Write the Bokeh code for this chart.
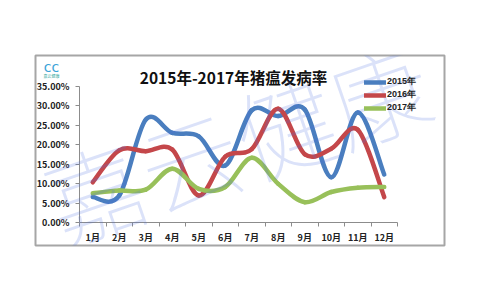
from bokeh.plotting import figure
from bokeh.models import (Range1d, FixedTicker, NumeralTickFormatter, Label,
                          Legend, LegendItem, LinearAxis)
from bokeh.embed import file_html
from bokeh.resources import INLINE

months = ["1月", "2月", "3月", "4月", "5月", "6月", "7月", "8月", "9月", "10月", "11月", "12月"]
rate_2015 = [6.6, 7.0, 26.5, 23.1, 22.2, 14.7, 28.9, 27.4, 29.1, 11.7, 28.3, 12.4]
rate_2016 = [10.4, 18.6, 18.4, 18.8, 7.0, 17.0, 18.9, 29.3, 17.6, 19.0, 23.9, 6.6]
rate_2017 = [7.6, 8.3, 8.5, 13.9, 8.7, 9.2, 16.7, 10.0, 5.3, 7.9, 9.0, 9.2]
series_names = ["2015年", "2016年", "2017年"]
colors = ["#4a7ebf", "#c4474a", "#98c05a"]
y_ticks = [0, 0.05, 0.10, 0.15, 0.20, 0.25, 0.30, 0.35]
title_text = "2015年-2017年猪瘟发病率"
watermark_text = "嘉云健康"

FONT = "Noto Sans CJK SC"

# layout (pixels): outer chart box and inner plotting area
BOX_L, BOX_R, BOX_T, BOX_B = 35, 444, 55, 245
AX_L, AX_R, AX_T, AX_B = 79, 397, 86, 222.3
n = len(months)
ymax = y_ticks[-1]
px_x = (AX_R - AX_L) / n
px_y = (AX_B - AX_T) / ymax
x_start = -(AX_L - BOX_L) / px_x
x_end = n + (BOX_R - AX_R) / px_x
y_start = -(BOX_B - AX_B) / px_y
y_end = ymax + (AX_T - BOX_T) / px_y

p = figure(width=480, height=300, output_backend="svg", toolbar_location=None,
           x_range=Range1d(x_start, x_end), y_range=Range1d(y_start, y_end),
           x_axis_location=None, y_axis_location=None,
           min_border_left=BOX_L, min_border_right=480 - BOX_R,
           min_border_top=BOX_T, min_border_bottom=300 - BOX_B)
p.background_fill_color = "white"
p.border_fill_color = "white"
p.outline_line_color = "#a6a6a6"
p.outline_line_width = 2
p.xgrid.visible = False
p.ygrid.visible = False

xs = [i + 0.5 for i in range(n)]


def smooth_segments(xv, yv):
    m = len(xv)
    P = list(zip(xv, yv))
    seg = dict(x0=[], y0=[], x1=[], y1=[], cx0=[], cy0=[], cx1=[], cy1=[])
    for i in range(m - 1):
        pm = P[i - 1] if i > 0 else P[i]
        p0 = P[i]
        p1 = P[i + 1]
        pp = P[i + 2] if i + 2 < m else P[i + 1]
        seg["x0"].append(p0[0]); seg["y0"].append(p0[1])
        seg["x1"].append(p1[0]); seg["y1"].append(p1[1])
        seg["cx0"].append(p0[0] + (p1[0] - pm[0]) / 6)
        seg["cy0"].append(p0[1] + (p1[1] - pm[1]) / 6)
        seg["cx1"].append(p1[0] - (pp[0] - p0[0]) / 6)
        seg["cy1"].append(p1[1] - (pp[1] - p0[1]) / 6)
    return seg


items = []
for vals, name, col in zip([rate_2015, rate_2016, rate_2017], series_names, colors):
    yv = [v / 100 for v in vals]
    s = smooth_segments(xs, yv)
    r = p.bezier(line_color=col, line_width=4.5, line_cap="round", **s)
    items.append(LegendItem(label=name, renderers=[r]))

# axes placed at data positions inside the framed chart box
yaxis = LinearAxis(fixed_location=0, bounds=(0, ymax))
yaxis.ticker = FixedTicker(ticks=y_ticks)
yaxis.formatter = NumeralTickFormatter(format="0.00%")
yaxis.major_tick_out = 4
yaxis.major_tick_in = 0
yaxis.minor_tick_out = 0
yaxis.minor_tick_in = 0
yaxis.major_label_standoff = 6
yaxis.axis_line_color = "#8c8c8c"
yaxis.major_tick_line_color = "#8c8c8c"
yaxis.major_label_text_font = FONT
yaxis.major_label_text_font_size = "9px"
yaxis.major_label_text_font_style = "bold"
yaxis.major_label_text_color = "#222222"
p.add_layout(yaxis, "left")

xaxis = LinearAxis(fixed_location=0, bounds=(0, n))
xaxis.ticker = FixedTicker(ticks=xs, minor_ticks=list(range(n + 1)))
xaxis.major_label_overrides = {x: m for x, m in zip(xs, months)}
xaxis.major_tick_out = 0
xaxis.major_tick_in = 0
xaxis.minor_tick_out = 4
xaxis.minor_tick_in = 0
xaxis.minor_tick_line_color = "#8c8c8c"
xaxis.axis_line_color = "#8c8c8c"
xaxis.major_label_standoff = 4
xaxis.major_label_text_font = FONT
xaxis.major_label_text_font_size = "9px"
xaxis.major_label_text_font_style = "bold"
xaxis.major_label_text_color = "#222222"
p.add_layout(xaxis, "below")

legend = Legend(items=items, location=(364 - BOX_L, BOX_B - 114), orientation="vertical",
                glyph_width=22, glyph_height=10, label_height=10, label_standoff=1,
                spacing=0, padding=0, margin=0,
                label_text_font="Liberation Sans", label_text_font_size="9px",
                label_text_line_height=1.0,
                label_text_font_style="bold", label_text_color="#222222",
                border_line_alpha=0, background_fill_alpha=0)
p.add_layout(legend)

# title
p.add_layout(Label(x=233, y=76, x_units="canvas", y_units="canvas", text=title_text,
                   text_font=FONT, text_font_size="15.5px", text_font_style="bold",
                   text_color="#111111", text_align="center", text_baseline="middle"))

# logo
p.add_layout(Label(x=51, y=66, x_units="canvas", y_units="canvas", text="cc",
                   text_font="DejaVu Sans", text_font_size="14px", text_color="#3aa3d8",
                   text_align="center", text_baseline="middle"))
p.add_layout(Label(x=51, y=75, x_units="canvas", y_units="canvas", text="嘉云健康",
                   text_font=FONT, text_font_size="4px", text_color="#2aa39a",
                   text_align="center", text_baseline="middle"))

# watermark
p.add_layout(Label(x=236, y=140, x_units="canvas", y_units="canvas", text=watermark_text,
                   text_font=FONT, text_font_size="100px",
                   text_color="#4d6fe0", text_alpha=0.2, angle=19, angle_units="deg",
                   text_align="center", text_baseline="middle", level="overlay"))

open("out.html", "w").write(file_html(p, INLINE))
